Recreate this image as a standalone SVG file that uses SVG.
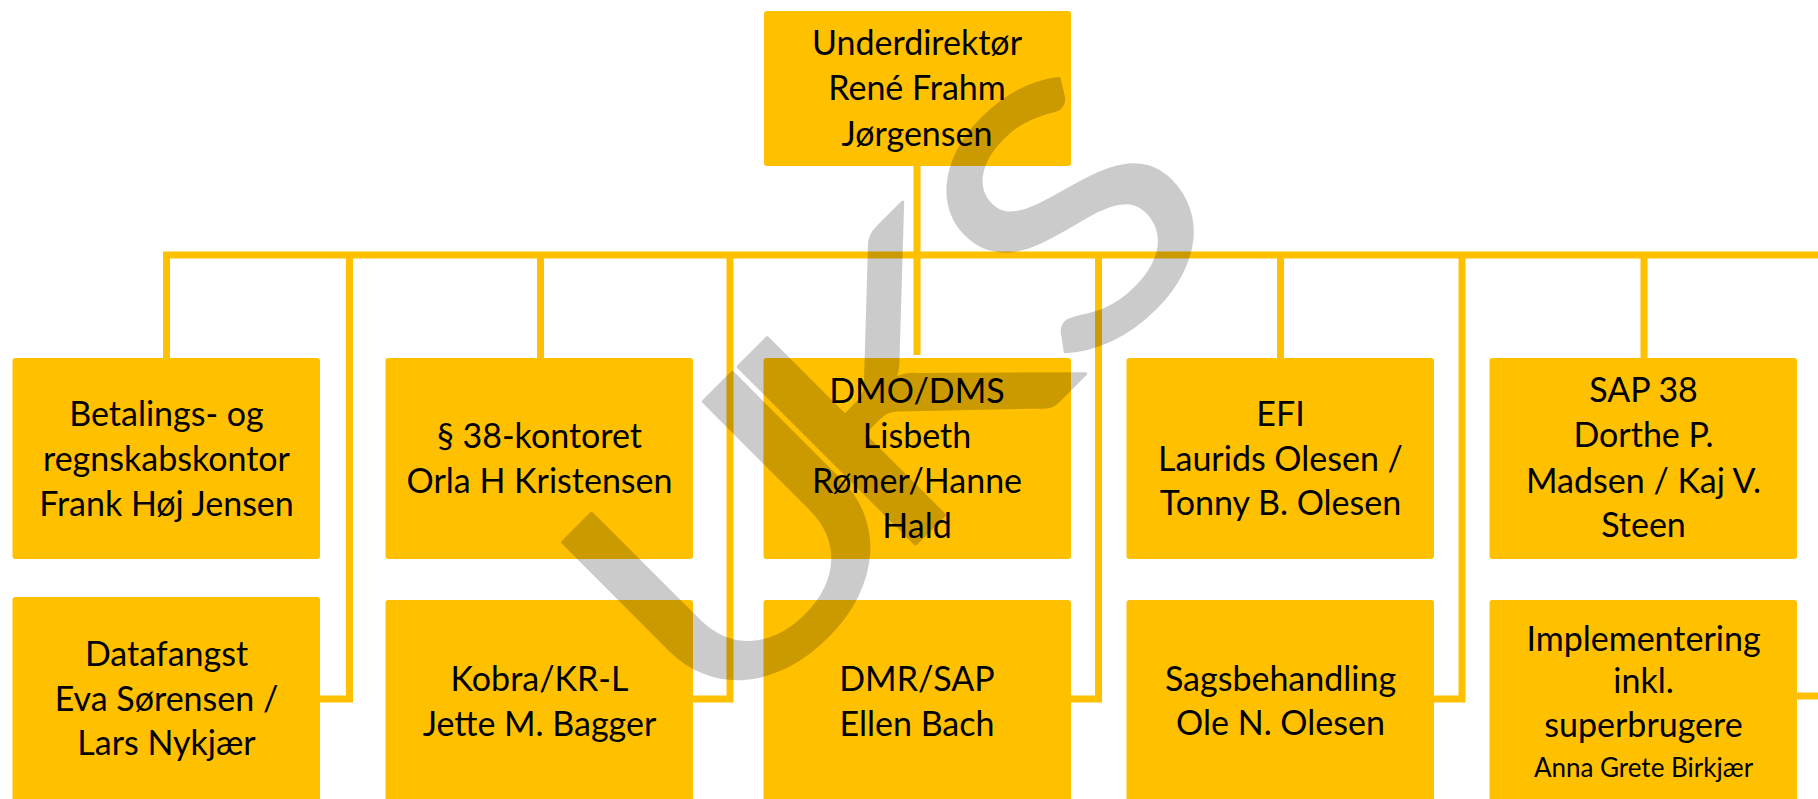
<svg xmlns="http://www.w3.org/2000/svg" width="1818" height="799" viewBox="0 0 1818 799">
  <style>
    .box { fill: #FFC000; }
    .lbl { font-family: Lato, "Liberation Sans", sans-serif; font-size: 34px; fill: #000; text-anchor: middle; }
    .small { font-size: 26px; }
    .wire { fill: none; stroke: #FFC000; stroke-width: 7; }
    .mark { font-family: Lato, "Liberation Sans", sans-serif; font-size: 350px; fill: #000; stroke: #000; stroke-width: 3; stroke-linejoin: round; text-anchor: middle; }
  </style>

  <rect width="1818" height="799" fill="#FFFFFF"/>

  <!-- connectors -->
  <g id="connectors" class="wire">
    <path d="M917 166 V355"/>
    <path d="M163 255 H1818"/>
    <path d="M166.5 255 V358"/>
    <path d="M349.5 258 V699 H320"/>
    <path d="M540.5 255 V358"/>
    <path d="M730 258 V699 H693"/>
    <path d="M1098.5 258 V699 H1070"/>
    <path d="M1280.5 255 V358"/>
    <path d="M1462 258 V699 H1434"/>
    <path d="M1644 255 V358"/>
    <path d="M1797 696 H1818"/>
  </g>

  <!-- top -->
  <g id="node-underdirektor">
    <rect class="box" x="764" y="11" width="307" height="155" rx="3"/>
    <text class="lbl"><tspan x="917" y="55">Underdirektør</tspan><tspan x="917" y="100">René Frahm</tspan><tspan x="917" y="146">Jørgensen</tspan></text>
  </g>

  <!-- first row -->
  <g id="node-betaling">
    <rect class="box" x="12.5" y="358" width="307.5" height="201" rx="3"/>
    <text class="lbl"><tspan x="166.5" y="426">Betalings- og</tspan><tspan x="166.5" y="471">regnskabskontor</tspan><tspan x="166.5" y="516">Frank Høj Jensen</tspan></text>
  </g>
  <g id="node-p38">
    <rect class="box" x="385.5" y="358" width="307.5" height="201" rx="3"/>
    <text class="lbl"><tspan x="539.5" y="448">§ 38-kontoret</tspan><tspan x="539.5" y="493">Orla H Kristensen</tspan></text>
  </g>
  <g id="node-dmo">
    <rect class="box" x="763.5" y="358" width="307.5" height="201" rx="3"/>
    <text class="lbl"><tspan x="917" y="403">DMO/DMS</tspan><tspan x="917" y="448">Lisbeth</tspan><tspan x="917" y="493">Rømer/Hanne</tspan><tspan x="917" y="538">Hald</tspan></text>
  </g>
  <g id="node-efi">
    <rect class="box" x="1126.5" y="358" width="307.5" height="201" rx="3"/>
    <text class="lbl"><tspan x="1280.5" y="426">EFI</tspan><tspan x="1280.5" y="471">Laurids Olesen /</tspan><tspan x="1280.5" y="515">Tonny B. Olesen</tspan></text>
  </g>
  <g id="node-sap38">
    <rect class="box" x="1489.5" y="358" width="307.5" height="201" rx="3"/>
    <text class="lbl"><tspan x="1643.5" y="402">SAP 38</tspan><tspan x="1643.5" y="447">Dorthe P.</tspan><tspan x="1643.5" y="493">Madsen / Kaj V.</tspan><tspan x="1643.5" y="537">Steen</tspan></text>
  </g>

  <!-- second row -->
  <g id="node-datafangst">
    <rect class="box" x="12.5" y="597" width="307.5" height="230" rx="3"/>
    <text class="lbl"><tspan x="166.5" y="666">Datafangst</tspan><tspan x="166.5" y="711">Eva Sørensen /</tspan><tspan x="166.5" y="755">Lars Nykjær</tspan></text>
  </g>
  <g id="node-kobra">
    <rect class="box" x="385.5" y="600" width="307.5" height="230" rx="3"/>
    <text class="lbl"><tspan x="539.5" y="691">Kobra/KR-L</tspan><tspan x="539.5" y="736">Jette M. Bagger</tspan></text>
  </g>
  <g id="node-dmr">
    <rect class="box" x="763.5" y="600" width="307.5" height="230" rx="3"/>
    <text class="lbl"><tspan x="917" y="691">DMR/SAP</tspan><tspan x="917" y="736">Ellen Bach</tspan></text>
  </g>
  <g id="node-sagsbehandling">
    <rect class="box" x="1126.5" y="600" width="307.5" height="230" rx="3"/>
    <text class="lbl"><tspan x="1280.5" y="691">Sagsbehandling</tspan><tspan x="1280.5" y="735">Ole N. Olesen</tspan></text>
  </g>
  <g id="node-implementering">
    <rect class="box" x="1489.5" y="600" width="307.5" height="230" rx="3"/>
    <text class="lbl"><tspan x="1643.5" y="651">Implementering</tspan><tspan x="1643.5" y="693">inkl.</tspan><tspan x="1643.5" y="737">superbrugere</tspan><tspan class="small" x="1643.5" y="777">Anna Grete Birkjær</tspan></text>
  </g>

  <!-- watermark, set along a 45° diagonal and widened -->
  <g id="watermark" opacity="0.2">
    <text class="mark" transform="rotate(-45) scale(1.2 1)"><tspan x="112" y="1032">U</tspan><tspan x="303" y="1032">K</tspan><tspan x="504" y="1032">S</tspan></text>
  </g>
</svg>
